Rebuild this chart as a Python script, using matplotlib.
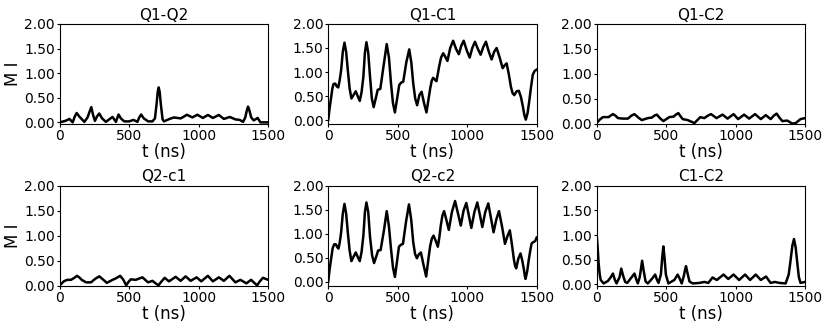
"""
Mutual information between qubit / coupler pairs versus time (2 x 3 panels).
"""

import matplotlib
matplotlib.use('Agg')
import matplotlib.pyplot as plt

# ── Data ──────────────────────────────────────────────────────────────────────
TITLES = ['Q1-Q2', 'Q1-C1', 'Q1-C2', 'Q2-c1', 'Q2-c2', 'C1-C2']

t_q1q2 = [0, 40, 70, 93, 108, 122, 140, 177, 200, 215, 227, 240, 253, 268, 284,
          305, 332, 360, 380, 404, 423, 440, 464, 500, 530, 559, 572, 586, 605,
          636, 667, 685, 697, 705, 712, 719, 727, 740, 750, 790, 822, 870, 895,
          915, 954, 990, 1030, 1066, 1102, 1145, 1181, 1224, 1264, 1295, 1319,
          1335, 1347, 1355, 1364, 1378, 1396, 1424, 1444, 1500]
mi_q1q2 = [0.00, 0.03, 0.07, 0.00, 0.12, 0.19, 0.12, 0.01, 0.10, 0.22, 0.31, 0.15,
           0.03, 0.12, 0.18, 0.08, 0.01, 0.07, 0.11, 0.01, 0.16, 0.08, 0.02, 0.02,
           0.05, 0.01, 0.10, 0.16, 0.08, 0.02, 0.02, 0.08, 0.38, 0.62, 0.71, 0.62,
           0.38, 0.06, 0.02, 0.07, 0.10, 0.08, 0.12, 0.155, 0.10, 0.155, 0.09,
           0.15, 0.09, 0.15, 0.07, 0.11, 0.06, 0.05, 0.01, 0.10, 0.25, 0.32, 0.25,
           0.10, 0.04, 0.09, 0.00, 0.00]

t_q1c1 = [0, 10, 22, 30, 38, 50, 62, 72, 82, 93, 105, 117, 129, 141, 154, 167,
          182, 198, 212, 227, 240, 253, 264, 275, 288, 301, 314, 327, 342, 356,
          375, 397, 421, 437, 452, 466, 480, 496, 511, 525, 540, 562, 583, 598,
          612, 626, 640, 656, 672, 690, 707, 720, 734, 745, 755, 768, 779, 788,
          798, 812, 827, 842, 858, 878, 899, 920, 940, 958, 975, 997, 1018, 1037,
          1056, 1077, 1097, 1116, 1135, 1156, 1176, 1194, 1212, 1234, 1255, 1270,
          1284, 1300, 1315, 1327, 1339, 1356, 1372, 1387, 1401, 1412, 1422, 1435,
          1448, 1460, 1472, 1485, 1500]
mi_q1c1 = [0.00, 0.25, 0.49, 0.66, 0.75, 0.76, 0.70, 0.68, 0.82, 1.04, 1.42, 1.61,
           1.42, 1.04, 0.66, 0.45, 0.52, 0.60, 0.50, 0.40, 0.58, 0.90, 1.40, 1.62,
           1.40, 0.90, 0.45, 0.27, 0.45, 0.63, 0.65, 1.10, 1.58, 1.30, 0.76, 0.35,
           0.16, 0.45, 0.73, 0.78, 0.80, 1.20, 1.47, 1.20, 0.76, 0.45, 0.31, 0.52,
           0.59, 0.35, 0.16, 0.40, 0.66, 0.82, 0.88, 0.84, 0.81, 0.95, 1.11, 1.30,
           1.39, 1.32, 1.23, 1.50, 1.65, 1.48, 1.37, 1.55, 1.65, 1.45, 1.30, 1.50,
           1.63, 1.48, 1.36, 1.52, 1.63, 1.42, 1.26, 1.42, 1.50, 1.30, 1.08, 1.14,
           1.18, 0.95, 0.69, 0.56, 0.52, 0.60, 0.61, 0.48, 0.28, 0.10, 0.01, 0.15,
           0.42, 0.70, 0.94, 1.02, 1.05]

t_q1c2 = [0, 22, 45, 69, 86, 100, 117, 135, 153, 189, 225, 250, 272, 300, 325,
          368, 397, 415, 433, 455, 480, 523, 554, 570, 588, 605, 619, 655, 680,
          703, 725, 746, 775, 800, 823, 863, 906, 942, 985, 1018, 1061, 1097, 1140,
          1181, 1217, 1252, 1275, 1295, 1315, 1336, 1372, 1390, 1408, 1432, 1467,
          1500]
mi_q1c2 = [0.01, 0.08, 0.13, 0.13, 0.13, 0.16, 0.19, 0.16, 0.11, 0.10, 0.10, 0.16,
           0.19, 0.12, 0.07, 0.11, 0.12, 0.16, 0.18, 0.11, 0.05, 0.13, 0.14, 0.18,
           0.21, 0.14, 0.09, 0.07, 0.04, 0.01, 0.07, 0.13, 0.11, 0.16, 0.19, 0.11,
           0.18, 0.10, 0.19, 0.09, 0.18, 0.10, 0.19, 0.09, 0.17, 0.09, 0.16, 0.20,
           0.12, 0.05, 0.06, 0.03, 0.00, 0.01, 0.09, 0.11]

t_q2c1 = [0, 29, 53, 81, 105, 124, 140, 158, 189, 225, 255, 284, 310, 339, 380,
          404, 435, 458, 478, 495, 511, 547, 575, 595, 615, 635, 667, 690, 710,
          733, 755, 786, 834, 870, 906, 942, 985, 1018, 1066, 1102, 1145, 1181,
          1221, 1264, 1300, 1343, 1377, 1400, 1420, 1440, 1462, 1500]
mi_q2c1 = [0.01, 0.09, 0.12, 0.12, 0.16, 0.20, 0.17, 0.12, 0.07, 0.07, 0.14, 0.19,
           0.13, 0.06, 0.12, 0.15, 0.20, 0.12, 0.01, 0.08, 0.13, 0.12, 0.15, 0.17,
           0.12, 0.07, 0.10, 0.05, 0.01, 0.09, 0.16, 0.09, 0.18, 0.10, 0.19, 0.10,
           0.17, 0.09, 0.20, 0.09, 0.17, 0.10, 0.20, 0.07, 0.12, 0.05, 0.12, 0.06,
           0.01, 0.09, 0.16, 0.12]

t_q2c2 = [0, 10, 22, 32, 43, 55, 65, 74, 83, 93, 105, 117, 129, 141, 154, 167,
          182, 198, 212, 227, 240, 253, 264, 275, 288, 301, 316, 330, 345, 359,
          377, 400, 421, 437, 452, 466, 480, 495, 509, 523, 538, 560, 581, 597,
          612, 625, 638, 652, 667, 686, 705, 720, 734, 746, 758, 774, 789, 800,
          810, 822, 834, 851, 868, 890, 913, 934, 954, 974, 994, 1012, 1030, 1052,
          1073, 1091, 1109, 1130, 1152, 1171, 1190, 1210, 1229, 1251, 1272, 1290,
          1307, 1322, 1336, 1345, 1353, 1368, 1384, 1396, 1408, 1414, 1420, 1432,
          1444, 1454, 1463, 1472, 1480, 1490, 1500]
mi_q2c2 = [0.00, 0.26, 0.50, 0.70, 0.78, 0.78, 0.72, 0.69, 0.82, 1.03, 1.42, 1.62,
           1.42, 1.03, 0.65, 0.43, 0.52, 0.61, 0.52, 0.43, 0.62, 0.96, 1.45, 1.65,
           1.45, 0.93, 0.55, 0.39, 0.52, 0.65, 0.66, 1.05, 1.47, 1.15, 0.68, 0.30,
           0.10, 0.42, 0.73, 0.77, 0.79, 1.25, 1.61, 1.30, 0.82, 0.58, 0.49, 0.57,
           0.61, 0.35, 0.11, 0.45, 0.75, 0.90, 0.96, 0.85, 0.73, 0.93, 1.17, 1.38,
           1.47, 1.28, 1.08, 1.45, 1.68, 1.42, 1.17, 1.48, 1.64, 1.38, 1.12, 1.45,
           1.65, 1.40, 1.14, 1.45, 1.63, 1.33, 1.03, 1.30, 1.47, 1.15, 0.79, 0.95,
           1.07, 0.78, 0.47, 0.33, 0.28, 0.48, 0.59, 0.45, 0.26, 0.14, 0.06, 0.22,
           0.47, 0.65, 0.79, 0.82, 0.83, 0.85, 0.92]

t_c1c2 = [0, 7, 14, 22, 29, 50, 81, 100, 117, 130, 143, 165, 177, 190, 205, 220,
          250, 272, 285, 296, 310, 318, 327, 338, 352, 368, 400, 421, 433, 445,
          462, 472, 480, 488, 498, 516, 559, 583, 600, 612, 628, 636, 643, 652,
          668, 691, 739, 775, 803, 834, 865, 913, 947, 985, 1025, 1068, 1104, 1145,
          1181, 1219, 1252, 1281, 1317, 1360, 1382, 1396, 1408, 1420, 1432, 1444,
          1455, 1467, 1500]
mi_c1c2 = [1.00, 0.75, 0.43, 0.20, 0.09, 0.02, 0.07, 0.14, 0.22, 0.10, 0.02, 0.15,
           0.32, 0.18, 0.05, 0.03, 0.14, 0.22, 0.10, 0.02, 0.15, 0.30, 0.48, 0.28,
           0.06, 0.02, 0.12, 0.20, 0.10, 0.03, 0.20, 0.55, 0.77, 0.55, 0.20, 0.02,
           0.09, 0.20, 0.10, 0.02, 0.18, 0.30, 0.37, 0.25, 0.06, 0.02, 0.03, 0.05,
           0.03, 0.14, 0.09, 0.20, 0.11, 0.20, 0.09, 0.20, 0.09, 0.20, 0.09, 0.16,
           0.03, 0.05, 0.03, 0.02, 0.20, 0.50, 0.78, 0.92, 0.75, 0.43, 0.15, 0.03,
           0.05]

SERIES = [(t_q1q2, mi_q1q2), (t_q1c1, mi_q1c1), (t_q1c2, mi_q1c2),
          (t_q2c1, mi_q2c1), (t_q2c2, mi_q2c2), (t_c1c2, mi_c1c2)]

YTICKS = [0.0, 0.5, 1.0, 1.5, 2.0]
XTICKS = [0, 500, 1000, 1500]

# ── Plot ───────────────────────────────────────────────────────────────────────
fig, axes = plt.subplots(2, 3, figsize=(8.3, 3.32), dpi=100)
fig.subplots_adjust(left=0.072, right=0.970, bottom=0.139, top=0.928,
                    wspace=0.288, hspace=0.614)

for i, ax in enumerate(axes.flat):
    t, mi = SERIES[i]
    ax.plot(t, mi, color='black', linewidth=1.8, solid_joinstyle='round')
    ax.set_xlim(0, 1500)
    ax.set_ylim(top=2.0)
    ax.set_xticks(XTICKS)
    ax.set_yticks(YTICKS)
    ax.set_yticklabels([f'{v:.2f}' for v in YTICKS])
    ax.tick_params(labelsize=10, length=2, pad=1.5)
    ax.set_title(TITLES[i], fontsize=11, pad=3)
    ax.set_xlabel('t (ns)', fontsize=12, labelpad=0)
    if i % 3 == 0:
        ax.set_ylabel('M I', fontsize=12, labelpad=1.5)

plt.savefig('out.png', dpi=100)
